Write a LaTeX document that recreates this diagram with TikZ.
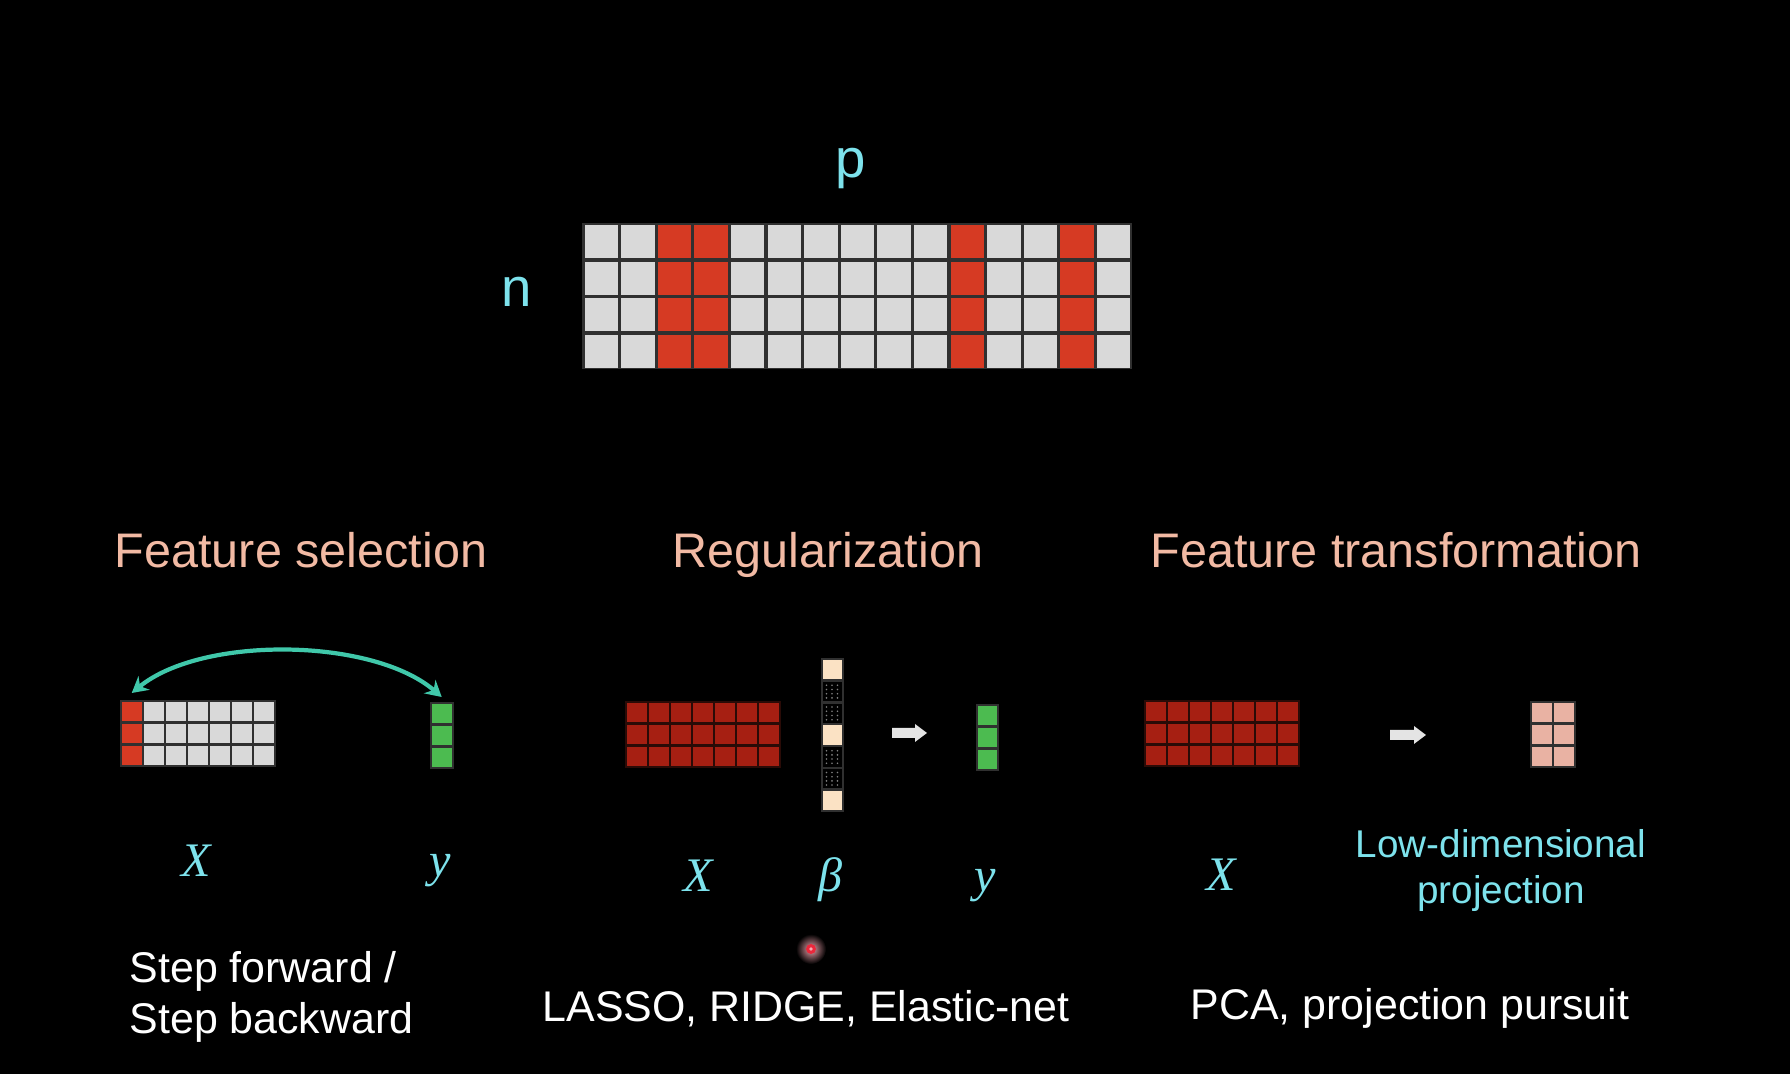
\documentclass[tikz,border=0pt]{standalone}
\usepackage{fontspec}
\setmainfont{Liberation Sans}
\newfontfamily\varitfont{Liberation Serif}
\usetikzlibrary{arrows.meta}

\definecolor{labelcyan}{RGB}{125,226,236}
\definecolor{titlesalmon}{RGB}{242,186,164}
\definecolor{cellgray}{RGB}{217,217,217}
\definecolor{cellred}{RGB}{214,58,35}
\definecolor{celldarkred}{RGB}{166,31,18}
\definecolor{cellgreen}{RGB}{76,187,80}
\definecolor{cellcream}{RGB}{251,226,196}
\definecolor{cellpink}{RGB}{233,178,163}
\definecolor{gapgray}{RGB}{48,48,48}
\definecolor{gapred}{RGB}{42,11,7}
\definecolor{linkteal}{RGB}{64,200,170}
\definecolor{arrowgray}{RGB}{228,228,228}
\definecolor{laserred}{RGB}{235,40,60}
\definecolor{laserhalo}{RGB}{235,160,170}

\tikzset{
  headline/.style={text=titlesalmon, font=\fontsize{13.8}{16}\selectfont, anchor=base, inner sep=0pt},
  methodtext/.style={text=white, font=\fontsize{12.2}{14.5}\selectfont, inner sep=0pt},
  dimlabel/.style={text=labelcyan, font=\fontsize{15.5}{18}\selectfont, anchor=base, inner sep=0pt},
  varlabel/.style={text=labelcyan, font=\varitfont\itshape\fontsize{13.7}{16}\selectfont, anchor=base, inner sep=0pt},
  linkarrow/.style={draw=linkteal, line width=1.2pt, {Stealth[length=4.5pt, width=5pt]}-{Stealth[length=4.5pt, width=5pt]}},
}

\begin{document}
\begin{tikzpicture}[x=0.01cm, y=-0.01cm]
	\fill[black] (0,0) rectangle (1790,1074);
	\useasboundingbox (0,0) rectangle (1790,1074);
	
	% data matrix n x p
	\begin{scope}[shift={(582,223)}]
		\fill[gapgray] (0,0) rectangle (550,146);
		\foreach \i in {0,...,14}
			\foreach \j in {0,...,3}
				\fill[cellgray] (2.5+\i*36.6, 2.5+\j*36.4) rectangle ++(33.5,33);
		\foreach \i in {2,3,10,13}
			\foreach \j in {0,...,3}
				\fill[cellred] (2.5+\i*36.6, 2.5+\j*36.4) rectangle ++(33.5,33);
	\end{scope}
	\node[dimlabel] (plabel) at (851,178) {p};
	\node[dimlabel] (nlabel) at (517,307) {n};
	
	% headlines
	\node[headline] (selhead) at (301,568) {Feature selection};
	\node[headline] (reghead) at (828,568) {Regularization};
	\node[headline] (transhead) at (1396,568) {Feature transformation};
	
	% feature selection
	\begin{scope}[shift={(122,702)}]
		\fill[gapgray] (-2,-2) rectangle (153.5,65.5);
		\foreach \i in {0,...,6}
			\foreach \j in {0,...,2}
				\fill[cellgray] (\i*22, \j*22) rectangle ++(19.5,19.5);
		\foreach \j in {0,...,2}
			\fill[cellred] (0, \j*22) rectangle ++(19.5,19.5);
		\coordinate (selX) at (9.75,-9);
	\end{scope}
	\begin{scope}[shift={(432,704)}]
		\fill[gapgray] (-2,-2) rectangle (21.5,65.5);
		\foreach \j in {0,...,2}
			\fill[cellgreen] (0, \j*22) rectangle ++(19.5,19.5);
		\coordinate (sely) at (9.75,-7);
	\end{scope}
	\draw[linkarrow] (selX) to[bend left=40, looseness=0.75] (sely);
	
	\node[varlabel] (selXlabel) at (196,877) {X};
	\node[varlabel] (selylabel) at (440,877) {y};
	\node[methodtext, align=left, anchor=north west] (stepnote) at (129,951) {Step forward /\\Step backward};
	
	% regularization
	\begin{scope}[shift={(627,703)}]
		\fill[gapred] (-2,-2) rectangle (153.5,65.5);
		\foreach \i in {0,...,6}
			\foreach \j in {0,...,2}
				\fill[celldarkred] (\i*22, \j*22) rectangle ++(19.5,19.5);
	\end{scope}
	\begin{scope}[shift={(822.5,660)}]
		\fill[gapgray] (-2,-2) rectangle (21.5,152.3);
		\foreach \j in {1,2,4,5} {
			\fill[black] (0, \j*21.8) rectangle ++(19.5,19.5);
			\foreach \a in {0,1,2}
				\foreach \b in {0,...,3}
					\fill[gray] (4+\a*5.5, \j*21.8+3.5+\b*4.2) circle (0.9);
		}
		\foreach \j in {0,3,6}
			\fill[cellcream] (0, \j*21.8) rectangle ++(19.5,19.5);
	\end{scope}
	\fill[arrowgray] (892,728) -- (915,728) -- (915,724) -- (927,733) -- (915,742) -- (915,738) -- (892,738) -- cycle;
	\begin{scope}[shift={(977.5,706)}]
		\fill[gapgray] (-2,-2) rectangle (21.5,65.5);
		\foreach \j in {0,...,2}
			\fill[cellgreen] (0, \j*22) rectangle ++(19.5,19.5);
	\end{scope}
	
	\node[varlabel] (regXlabel) at (698,892) {X};
	\node[varlabel] (betalabel) at (830,892) {β};
	\node[varlabel] (regylabel) at (985,892) {y};
	
	% laser pointer dot
	\shade[inner color=laserhalo, outer color=black] (811,949) circle (15);
	\fill[laserred] (811,949) circle (5);
	\fill[white!60!laserred] (811,949) circle (1.8);
	
	\node[methodtext, anchor=base] (regnote) at (806,1022) {LASSO, RIDGE, Elastic-net};
	
	% feature transformation
	\begin{scope}[shift={(1146,702)}]
		\fill[gapred] (-2,-2) rectangle (153.5,65.5);
		\foreach \i in {0,...,6}
			\foreach \j in {0,...,2}
				\fill[celldarkred] (\i*22, \j*22) rectangle ++(19.5,19.5);
	\end{scope}
	\fill[arrowgray] (1390,730) -- (1414,730) -- (1414,726) -- (1426,735) -- (1414,744) -- (1414,740) -- (1390,740) -- cycle;
	\begin{scope}[shift={(1532,703)}]
		\fill[gapgray] (-2,-2) rectangle (43.5,65.5);
		\foreach \i in {0,1}
			\foreach \j in {0,...,2}
				\fill[cellpink] (\i*22, \j*22) rectangle ++(19.5,19.5);
	\end{scope}
	
	\node[varlabel] (transXlabel) at (1221,891) {X};
	\node[text=labelcyan, font=\fontsize{11}{13}\selectfont, inner sep=0pt, align=center, anchor=north] (projlabel) at (1501,829) {Low-dimensional\\projection};
	\node[methodtext, anchor=base] (transnote) at (1410,1020) {PCA, projection pursuit};
	
\end{tikzpicture}
\end{document}
